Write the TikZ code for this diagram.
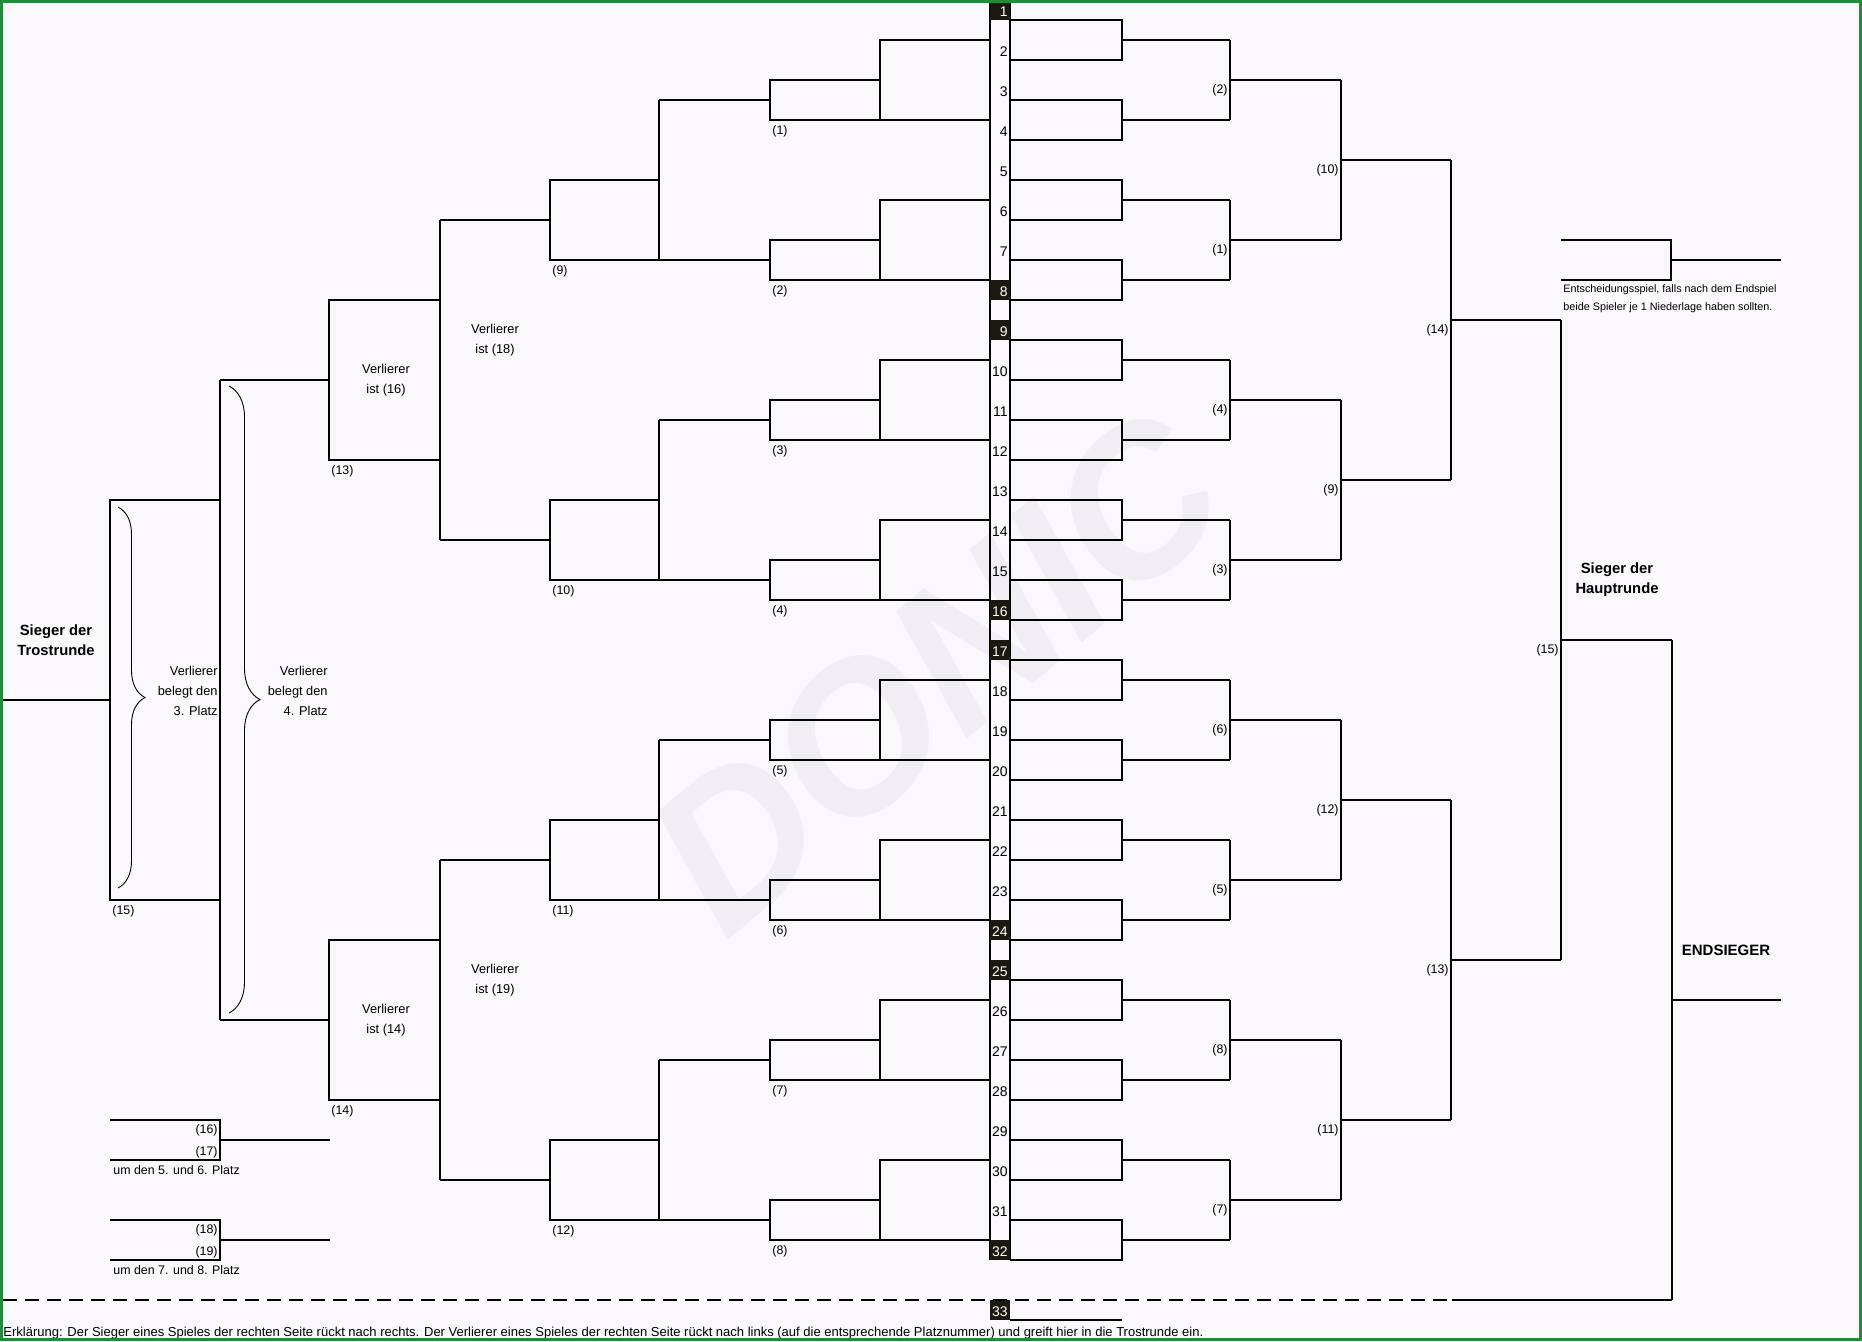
\documentclass[tikz,border=0pt]{standalone}
\usepackage{fontspec}
\setmainfont{Liberation Sans}
\usetikzlibrary{decorations.pathreplacing}
\definecolor{bgcol}{RGB}{250,248,252}
\definecolor{framecol}{RGB}{34,139,58}
\definecolor{slotcol}{RGB}{26,24,16}
\definecolor{markcol}{RGB}{240,238,242}

\begin{document}
\begin{tikzpicture}[x=0.5pt, y=-0.5pt,
    bline/.style={draw=black, line width=1pt, line join=miter},
    bracebow/.style={draw=black, line width=0.45pt, decorate, decoration={brace, amplitude=#1}},
    slotbox/.style={fill=slotcol},
    slotnr/.style={font=\fontsize{7}{8}\selectfont, anchor=base east, inner sep=0pt},
    lbl/.style={font=\fontsize{6.2}{7}\selectfont, inner sep=0pt},
    notetext/.style={font=\fontsize{6.4}{10}\selectfont, align=center, inner sep=0pt},
    headtext/.style={font=\bfseries\fontsize{7.4}{10}\selectfont, align=center, inner sep=0pt},
    tinytext/.style={font=\fontsize{5.4}{9}\selectfont, align=left, inner sep=0pt}
]
\useasboundingbox (0,0) rectangle (1862,1341);
\fill[bgcol] (0,0) rectangle (1862,1341);

% Wasserzeichen
\node[rotate=40, text=markcol, font=\bfseries\itshape\fontsize{104}{104}\selectfont] (mark) at (936,672) {DONIC};

% Mittelspalte mit Platznummern
\draw[bline] (990,0) -- (990,1260);
\draw[bline] (1010,0) -- (1010,1260);
\foreach \k in {1,8,9,16,17,24,25,32} {
    \fill[slotbox] (990,{40*\k-40}) rectangle (1010,{40*\k-20});
    \node[slotnr, text=white] (s\k) at (1008,{40*\k-23.5}) {\k};
}
\foreach \k in {2,3,4,5,6,7,10,11,12,13,14,15,18,19,20,21,22,23,26,27,28,29,30,31} {
    \node[slotnr] (s\k) at (1008,{40*\k-23.5}) {\k};
}
\fill[slotbox] (990,1300) rectangle (1010,1320);
\node[slotnr, text=white] (s33) at (1008,1316.5) {33};
\draw[bline] (1010,1320) -- (1122,1320);

% rechte Seite, Runde 1
\foreach \k in {1,3,...,31} {
    \draw[bline] (1010,{40*\k-20}) -| (1122,{40*\k+20}) -- (1010,{40*\k+20});
    \draw[bline] (1122,{40*\k}) -- (1230,{40*\k});
}
% rechte Seite, Runde 2
\foreach \n [count=\i from 0] in {2,1,4,3,6,5,8,7} {
    \draw[bline] (1230,{40+160*\i}) -- (1230,{120+160*\i});
    \draw[bline] (1230,{80+160*\i}) -- (1341,{80+160*\i});
    \node[lbl, anchor=east] (rb\n) at (1228,{90+160*\i}) {(\n)};
}
% rechte Seite, Runde 3
\foreach \n [count=\i from 0] in {10,9,12,11} {
    \draw[bline] (1341,{80+320*\i}) -- (1341,{240+320*\i});
    \draw[bline] (1341,{160+320*\i}) -- (1451,{160+320*\i});
    \node[lbl, anchor=east] (rc\n) at (1339,{170+320*\i}) {(\n)};
}
% rechte Seite, Runde 4
\foreach \n [count=\i from 0] in {14,13} {
    \draw[bline] (1451,{160+640*\i}) -- (1451,{480+640*\i});
    \draw[bline] (1451,{320+640*\i}) -- (1561,{320+640*\i});
    \node[lbl, anchor=east] (rd\n) at (1449,{330+640*\i}) {(\n)};
}
% Endspiel der Hauptrunde
\draw[bline] (1561,320) -- (1561,960);
\draw[bline] (1561,640) -- (1672,640);
\node[lbl, anchor=east] (re15) at (1559,650) {(15)};
\node[headtext] (hsieg) at (1617,580) {Sieger der\\Hauptrunde};

% Finale
\draw[bline] (1672,640) -- (1672,1300);
\draw[bline] (1672,1000) -- (1781,1000);
\node[headtext, font=\bfseries\fontsize{7.5}{9}\selectfont] (endsieg) at (1726,950) {ENDSIEGER};
\draw[line width=1pt, dash pattern=on 7pt off 4pt] (3,1300) -- (1452,1300);
\draw[bline] (1452,1300) -- (1672,1300);

% Entscheidungsspiel
\draw[bline] (1561,240) -- (1671,240) -- (1671,280) -- (1561,280);
\draw[bline] (1671,260) -- (1781,260);
\node[tinytext, anchor=north west] (entsch) at (1563,284) {Entscheidungsspiel, falls nach dem Endspiel\\beide Spieler je 1 Niederlage haben sollten.};

% linke Seite, Runde 1
\foreach \c [count=\n] in {0,160,...,1120} {
    \draw[bline] (990,{\c+40}) -- (880,{\c+40}) -- (880,{\c+120});
    \draw[bline] (990,{\c+120}) -- (770,{\c+120}) -- (770,{\c+80}) -- (880,{\c+80});
    \draw[bline] (770,{\c+100}) -- (659,{\c+100});
    \node[lbl, anchor=west] (la\n) at (772,{\c+131}) {(\n)};
}
% linke Seite, Runde 2
\foreach \b [count=\n from 9] in {0,320,640,960} {
    \draw[bline] (659,{\b+100}) -- (659,{\b+260}) -- (550,{\b+260}) -- (550,{\b+180}) -- (659,{\b+180});
    \draw[bline] (550,{\b+220}) -- (440,{\b+220});
    \node[lbl, anchor=west] (lb\n) at (552,{\b+271}) {(\n)};
}
% linke Seite, Runde 3
\foreach \h/\n/\m/\v in {0/13/16/18, 640/14/14/19} {
    \draw[bline] (440,{\h+220}) -- (440,{\h+540});
    \draw[bline] (440,{\h+300}) -- (329,{\h+300}) -- (329,{\h+460}) -- (440,{\h+460});
    \draw[bline] (329,{\h+380}) -- (220,{\h+380});
    \node[lbl, anchor=west] (lc\n) at (331,{\h+471}) {(\n)};
    \node[notetext] (vi\m) at (386,{\h+380}) {Verlierer\\ist (\m)};
    \node[notetext] (vo\v) at (495,{\h+340}) {Verlierer\\ist (\v)};
}
% Endspiel der Trostrunde
\draw[bline] (220,380) -- (220,1020);
\draw[bline] (220,500) -- (110,500) -- (110,900) -- (220,900);
\draw[bline] (110,700) -- (0,700);
\node[lbl, anchor=west] (l15) at (112,911) {(15)};
\node[headtext] (tsieg) at (56,640) {Sieger der\\Trostrunde};

% Klammern
\draw[bracebow=13.5pt] (118,507) -- (118,888);
\node[notetext, align=right, anchor=east] (pl3) at (218,691) {Verlierer\\belegt den\\3. Platz};
\draw[bracebow=15.5pt] (229,386) -- (229,1013);
\node[notetext, align=right, anchor=east] (pl4) at (328,691) {Verlierer\\belegt den\\4. Platz};

% Platzierungsspiele
\foreach \y/\p/\q/\r/\s in {1120/16/17/5/6, 1220/18/19/7/8} {
    \draw[bline] (110,\y) -- (220,\y) -- (220,{\y+40}) -- (110,{\y+40});
    \draw[bline] (220,{\y+20}) -- (330,{\y+20});
    \node[lbl, anchor=east] (pp\p) at (218,{\y+10}) {(\p)};
    \node[lbl, anchor=east] (pp\q) at (218,{\y+32}) {(\q)};
    \node[lbl, anchor=west] (um\r) at (113,{\y+50}) {um den \r. und \s. Platz};
}

% Erklaerung
\node[lbl, font=\fontsize{6.5}{7}\selectfont, anchor=base west] (erkl) at (3,1336) {Erklärung: Der Sieger eines Spieles der rechten Seite rückt nach rechts. Der Verlierer eines Spieles der rechten Seite rückt nach links (auf die entsprechende Platznummer) und greift hier in die Trostrunde ein.};

% Rahmen
\draw[framecol, line width=1.5pt] (1.5,1.5) rectangle (1860.5,1339.5);
\end{tikzpicture}
\end{document}
